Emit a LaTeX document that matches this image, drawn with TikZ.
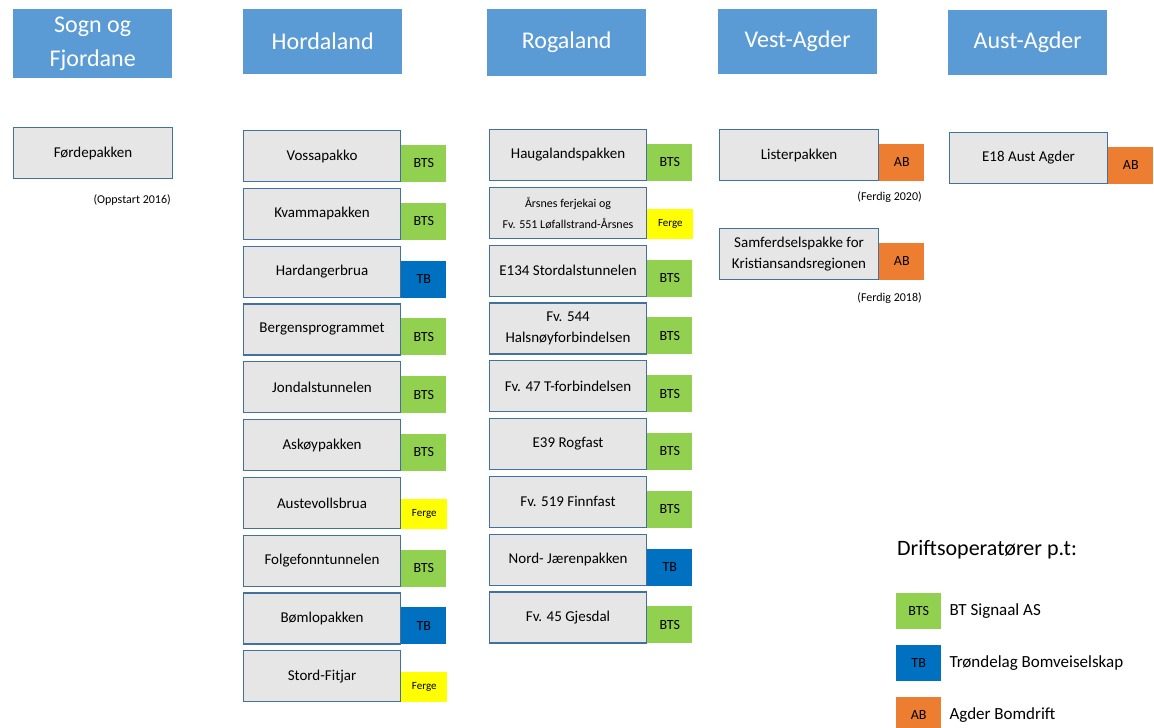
\documentclass[tikz,border=0pt]{standalone}
\usepackage{fontspec}
\setmainfont{Carlito}

\definecolor{hdrblue}{HTML}{5B9BD5}
\definecolor{pkggray}{HTML}{E7E6E6}
\definecolor{pkgedge}{HTML}{41719C}
\definecolor{btsgreen}{HTML}{92D050}
\definecolor{tbblue}{HTML}{0070C0}
\definecolor{aborange}{HTML}{ED7D31}
\definecolor{fergeyellow}{HTML}{FFFF00}

\newcommand{\pkgsmall}{\fontsize{12}{19}\selectfont}

\tikzset{
    hdr/.style={fill=hdrblue, text=white, minimum width=159pt, minimum height=65pt,
        inner sep=2pt, align=center, font=\fontsize{24}{34}\selectfont},
    pkg/.style={draw=pkgedge, fill=pkggray, line width=1.1pt, minimum width=157pt,
        minimum height=51pt, inner sep=2pt, align=center, font=\fontsize{15}{21}\selectfont},
    opbox/.style={minimum width=45pt, minimum height=37pt, inner sep=0pt,
        font=\fontsize{14}{14}\selectfont},
    op BTS/.style={opbox, fill=btsgreen},
    op TB/.style={opbox, fill=tbblue},
    op AB/.style={opbox, fill=aborange},
    op Ferge/.style={opbox, fill=fergeyellow, minimum width=46pt, minimum height=30pt,
        font=\fontsize{11}{11}\selectfont},
    note/.style={anchor=east, inner sep=0pt, font=\fontsize{12}{12}\selectfont},
    legtext/.style={anchor=west, inner sep=0pt, font=\fontsize{17}{17}\selectfont}
}

\begin{document}
\begin{tikzpicture}[x=1pt, y=-1pt]
        \useasboundingbox (0,0) rectangle (1154,728);

                \node[hdr, anchor=north west, minimum height=69pt] (sogn) at (13,9) {Sogn og\\Fjordane};
                \node[hdr, anchor=north west] (horda) at (243,9) {Hordaland};
                \node[hdr, anchor=north west, minimum height=67pt] (roga) at (487,9) {Rogaland};
                \node[hdr, anchor=north west] (vest) at (718,9) {Vest-Agder};
                \node[hdr, anchor=north west] (aust) at (948,10) {Aust-Agder};

        
                \node[pkg, anchor=north west, minimum width=159pt] (forde) at (13,127) {Førdepakken};
                \node[note] (fordenote) at (171,200) {(Oppstart 2016)};

        
                \foreach \name/\op [count=\i] in {Vossapakko/BTS, Kvammapakken/BTS, Hardangerbrua/TB,
                        Bergensprogrammet/BTS, Jondalstunnelen/BTS, Askøypakken/BTS, Austevollsbrua/Ferge,
                        Folgefonntunnelen/BTS, Bømlopakken/TB, Stord-Fitjar/Ferge} {
                    \node[pkg, anchor=north west] (h\i) at (243,{130+57.8*(\i-1)}) {\name};
                    \node[op \op, anchor=south west] (hop\i) at (h\i.south east) {\op};
                }

        
                \foreach \name/\op [count=\i] in {Haugalandspakken/BTS,
                        {{\pkgsmall Årsnes ferjekai og}\\{\pkgsmall Fv. 551 Løfallstrand-Årsnes}}/Ferge,
                        E134 Stordalstunnelen/BTS, {Fv. 544\\Halsnøyforbindelsen}/BTS,
                        Fv. 47 T-forbindelsen/BTS, E39 Rogfast/BTS, Fv. 519 Finnfast/BTS,
                        Nord- Jærenpakken/TB, Fv. 45 Gjesdal/BTS} {
                    \node[pkg, anchor=north west] (r\i) at (489,{129+57.8*(\i-1)}) {\name};
                    \node[op \op, anchor=south west] (rop\i) at (r\i.south east) {\op};
                }

        
                \node[pkg, anchor=north west, minimum width=159pt] (lister) at (719,129) {Listerpakken};
                \node[op AB, anchor=south west] (listerop) at (lister.south east) {AB};
                \node[note] (listernote) at (922,197) {(Ferdig 2020)};
                \node[pkg, anchor=north west, minimum width=159pt] (krs) at (719,228)
                    {Samferdselspakke for\\Kristiansandsregionen};
                \node[op AB, anchor=south west] (krsop) at (krs.south east) {AB};
                \node[note] (krsnote) at (922,298) {(Ferdig 2018)};

        
                \node[pkg, anchor=north west, minimum width=158pt] (e18) at (949,132) {E18 Aust Agder};
                \node[op AB, anchor=south west] (e18op) at (e18.south east) {AB};

        
                \node[anchor=west, inner sep=0pt, font=\fontsize{22}{22}\selectfont] (legend) at (897,550)
                    {Driftsoperatører p.t:};
                \foreach \op/\firm [count=\i] in {BTS/BT Signaal AS, TB/Trøndelag Bomveiselskap, AB/Agder Bomdrift} {
                    \node[op \op, anchor=north west, minimum height=36pt] (leg\i) at (896,{593+52*(\i-1)}) {\op};
                    \node[legtext] (legtext\i) at ([xshift=8pt]leg\i.east) {\firm};
                }

            \end{tikzpicture}
\end{document}
